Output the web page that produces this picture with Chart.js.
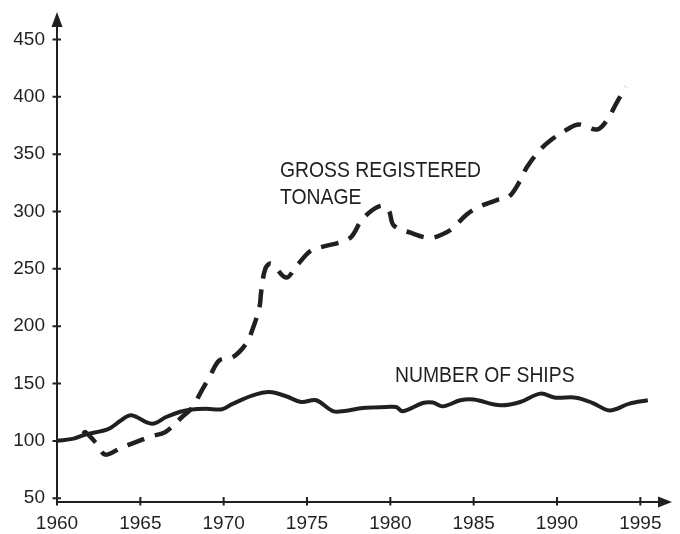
<!DOCTYPE html>
<html>
<head>
<meta charset="utf-8">
<title>Ships and gross registered tonnage</title>
<script src="https://cdn.jsdelivr.net/npm/chart.js@4.4.1/dist/chart.umd.min.js"></script>
<style>
  html, body { margin: 0; padding: 0; background: #fff; }
  #wrap { width: 680px; height: 534px; position: relative; }
</style>
</head>
<body>
<div id="wrap"><canvas id="chart"></canvas></div>
<script>
const INK = '#231f20';
const TICK_FONT = "'Liberation Sans', Arial, sans-serif";
const LABEL_FONT = "'Liberation Sans', Arial, sans-serif";

// number of ships, index (1960 = 100)
const shipYears = [1960, 1961, 1961.7, 1963.1, 1963.85, 1964.45, 1965.7, 1966.55, 1967.35, 1967.95,
    1968.95, 1969.9, 1970.5, 1971.75, 1972.75, 1973.75, 1974.65, 1975.55, 1976.55, 1977.25,
    1978.35, 1979.75, 1980.35, 1980.75, 1981.95, 1982.55, 1983.15, 1984.2, 1985.0, 1986.6,
    1987.8, 1989.0, 1989.9, 1991.15, 1992.15, 1993.15, 1994.35, 1995.45];
const shipValues = [100, 102, 105.5, 110.5, 118, 122.3, 115, 120.8, 125.2, 127.2,
    128.1, 127.5, 132, 139.7, 142.6, 138.9, 133.9, 135.4, 126, 126,
    128.7, 129.5, 129.5, 125.8, 133, 133.4, 130.1, 135.4, 136, 131,
    133.9, 141.2, 137.7, 137.7, 133, 126.6, 132.5, 135.4];

// gross registered tonnage, index (visible from about 1961.5)
const grtYears = [1961.55, 1961.7, 1962.35, 1962.9, 1963.85, 1964.65, 1965.65, 1966.5, 1967.5, 1968.05,
    1968.75, 1969.15, 1969.75, 1970.55, 1971.35, 1971.75, 1972.15, 1972.25, 1972.5, 1972.85,
    1973.75, 1974.35, 1975.2, 1975.85, 1977.05, 1977.65, 1978.35, 1979.4, 1979.9, 1980.2,
    1981.25, 1982.35, 1983.1, 1983.7, 1984.6, 1985.3, 1986.35, 1987.1, 1987.8, 1988.2,
    1989.0, 1989.6, 1990.6, 1991.3, 1992.4, 1993.0, 1993.6, 1994.15];
const grtValues = [106, 107.7, 98, 88, 94, 98.5, 104, 107.7, 120.8, 128,
    145.6, 155.7, 170.3, 173, 184.8, 198, 216.7, 230, 250.2, 254.6,
    242.4, 252.2, 265.6, 269, 273.4, 277.8, 293.8, 305, 301, 288,
    281.3, 276.9, 280, 285, 297.6, 304, 309.8, 312.7, 327.2, 338.8,
    354, 362, 371.5, 376, 371.5, 379.6, 395.5, 408.6];

const xTickValues = [1960, 1965, 1970, 1975, 1980, 1985, 1990, 1995];
const yTickValues = [50, 100, 150, 200, 250, 300, 350, 400, 450];

// text labels placed in data units
const seriesLabels = [
    { lines: ['GROSS REGISTERED', 'TONAGE'], x: 1973.38, y: [329.9, 306.3] },
    { lines: ['NUMBER OF SHIPS'], x: 1980.28, y: [151.6] }
];

const toPoints = (xs, ys) => xs.map((x, i) => ({ x: x, y: ys[i] }));

// axis lines with crossing tick marks and arrowheads, plus the series labels
const axisPlugin = {
    id: 'arrowAxes',
    beforeDatasetsDraw(chart) {
        const { ctx, chartArea: a, scales: { x, y } } = chart;
        ctx.save();
        ctx.strokeStyle = INK;
        ctx.fillStyle = INK;
        ctx.lineWidth = 2;
        ctx.beginPath();
        ctx.moveTo(a.left, a.bottom + 1);
        ctx.lineTo(a.left, a.top + 10);
        ctx.moveTo(a.left - 1, a.bottom);
        ctx.lineTo(a.right - 10, a.bottom);
        x.ticks.forEach(t => {
            const px = x.getPixelForValue(t.value);
            ctx.moveTo(px, a.bottom - 5);
            ctx.lineTo(px, a.bottom + 3.5);
        });
        y.ticks.forEach(t => {
            const py = y.getPixelForValue(t.value);
            ctx.moveTo(a.left - 4.5, py);
            ctx.lineTo(a.left + 4, py);
        });
        ctx.stroke();

        ctx.beginPath();
        ctx.moveTo(a.left, a.top);
        ctx.lineTo(a.left - 5.5, a.top + 15);
        ctx.lineTo(a.left + 5.5, a.top + 15);
        ctx.closePath();
        ctx.moveTo(a.right, a.bottom);
        ctx.lineTo(a.right - 14, a.bottom - 5.5);
        ctx.lineTo(a.right - 14, a.bottom + 5.5);
        ctx.closePath();
        ctx.fill();
        ctx.restore();
    },
    afterDatasetsDraw(chart) {
        const { ctx, scales: { x, y } } = chart;
        ctx.save();
        ctx.fillStyle = INK;
        ctx.font = '21.5px ' + LABEL_FONT;
        ctx.textBaseline = 'alphabetic';
        seriesLabels.forEach(lbl => {
            lbl.lines.forEach((line, i) => {
                ctx.save();
                ctx.translate(x.getPixelForValue(lbl.x), y.getPixelForValue(lbl.y[i]));
                ctx.scale(0.9, 1);
                ctx.fillText(line, 0, 0);
                ctx.restore();
            });
        });
        ctx.restore();
    }
};

new Chart(document.getElementById('chart'), {
    type: 'line',
    data: {
        datasets: [{
            label: 'Number of ships',
            data: toPoints(shipYears, shipValues),
            borderColor: INK,
            borderWidth: 4,
            pointRadius: 0,
            tension: 0.35,
            fill: false
        }, {
            label: 'Gross registered tonage',
            data: toPoints(grtYears, grtValues),
            borderColor: INK,
            borderWidth: 4.5,
            borderDash: [18, 11],
            borderCapStyle: 'butt',
            pointRadius: 0,
            tension: 0.35,
            fill: false
        }]
    },
    options: {
        responsive: true,
        maintainAspectRatio: false,
        animation: false,
        layout: { padding: { top: 12, right: 8, bottom: 0, left: 0 } },
        plugins: {
            legend: { display: false },
            tooltip: { enabled: false }
        },
        scales: {
            x: {
                type: 'linear',
                min: 1960,
                max: 1996.9,
                grid: { display: false, drawTicks: false },
                border: { display: false },
                afterBuildTicks: scale => { scale.ticks = xTickValues.map(v => ({ value: v })); },
                afterFit: scale => {
                    scale.height = 32;
                    scale.paddingLeft = 0;
                    scale.paddingRight = 0;
                },
                ticks: {
                    color: INK,
                    font: { family: TICK_FONT, size: 19 },
                    padding: 10,
                    autoSkip: false,
                    maxRotation: 0,
                    callback: v => String(v)
                }
            },
            y: {
                min: 46.7,
                max: 474,
                grid: { display: false, drawTicks: false },
                border: { display: false },
                afterBuildTicks: scale => { scale.ticks = yTickValues.map(v => ({ value: v })); },
                afterFit: scale => {
                    scale.width = 57;
                    scale.paddingTop = 0;
                    scale.paddingBottom = 0;
                },
                ticks: {
                    color: INK,
                    font: { family: TICK_FONT, size: 19 },
                    padding: 12,
                    callback: v => String(v)
                }
            }
        }
    },
    plugins: [axisPlugin]
});
</script>
</body>
</html>
